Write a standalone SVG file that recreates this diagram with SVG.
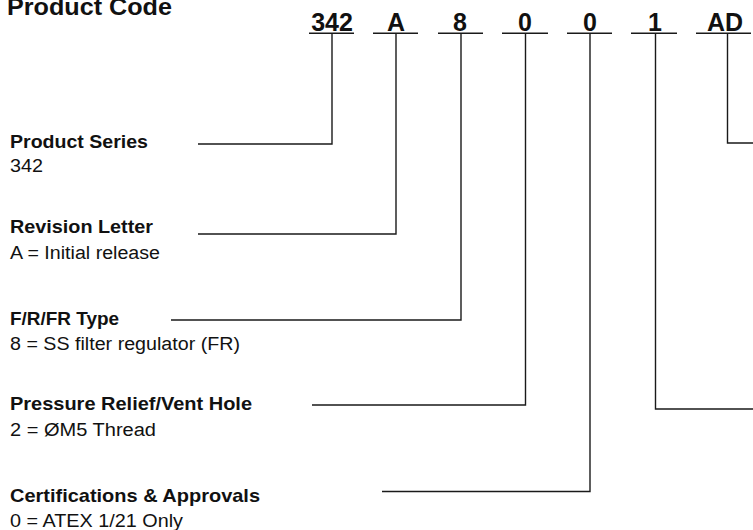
<svg xmlns="http://www.w3.org/2000/svg" width="753" height="530" viewBox="0 0 753 530">
<style>
text{font-family:"Liberation Sans",Arial,sans-serif;fill:#111}
.h{font-weight:bold;font-size:18.5px}
.v{font-size:18px}
.code{font-weight:bold;font-size:25px;text-anchor:middle}
.ln{fill:none;stroke:#1a1a1a;stroke-width:1.4}
</style>
<rect width="753" height="530" fill="#fff"/>
<g id="title"><text x="7" y="15" font-weight="bold" font-size="24" textLength="165" lengthAdjust="spacingAndGlyphs">Product Code</text></g>
<g id="code">
<text class="code" x="332" y="31">342</text>
<text class="code" x="396" y="31">A</text>
<text class="code" x="460" y="31">8</text>
<text class="code" x="525" y="31">0</text>
<text class="code" x="590" y="31">0</text>
<text class="code" x="655" y="31">1</text>
<text class="code" x="725" y="31">AD</text>
<path class="ln" d="M309,33.3H354M373,33.3H418M438,33.3H483M502,33.3H548M567,33.3H612M631,33.3H677M696,33.3H751"/>
</g>
<g id="series"><text class="h" x="10" y="148" textLength="138" lengthAdjust="spacingAndGlyphs">Product Series</text><text class="v" x="10" y="172" textLength="33" lengthAdjust="spacingAndGlyphs">342</text></g>
<g id="revision"><text class="h" x="10" y="233" textLength="143" lengthAdjust="spacingAndGlyphs">Revision Letter</text><text class="v" x="10" y="259" textLength="150" lengthAdjust="spacingAndGlyphs">A = Initial release</text></g>
<g id="type"><text class="h" x="10" y="325" textLength="109" lengthAdjust="spacingAndGlyphs">F/R/FR Type</text><text class="v" x="10" y="350" textLength="230" lengthAdjust="spacingAndGlyphs">8  = SS filter regulator (FR)</text></g>
<g id="relief"><text class="h" x="10" y="410" textLength="242" lengthAdjust="spacingAndGlyphs">Pressure Relief/Vent Hole</text><text class="v" x="10" y="436" textLength="146" lengthAdjust="spacingAndGlyphs">2 = ØM5 Thread</text></g>
<g id="cert"><text class="h" x="10" y="502" textLength="250" lengthAdjust="spacingAndGlyphs">Certifications &amp; Approvals</text><text class="v" x="10" y="527" textLength="173" lengthAdjust="spacingAndGlyphs">0 = ATEX 1/21 Only</text></g>
<g id="connectors">
<path class="ln" d="M198,144H332V33.3"/>
<path class="ln" d="M198,234H396V33.3"/>
<path class="ln" d="M171,320H461V33.3"/>
<path class="ln" d="M312,405H525.5V33.3"/>
<path class="ln" d="M382,491.5H590V33.3"/>
<path class="ln" d="M753,409H655.5V33.3"/>
<path class="ln" d="M753,143H727.5V33.3"/>
</g>
</svg>
